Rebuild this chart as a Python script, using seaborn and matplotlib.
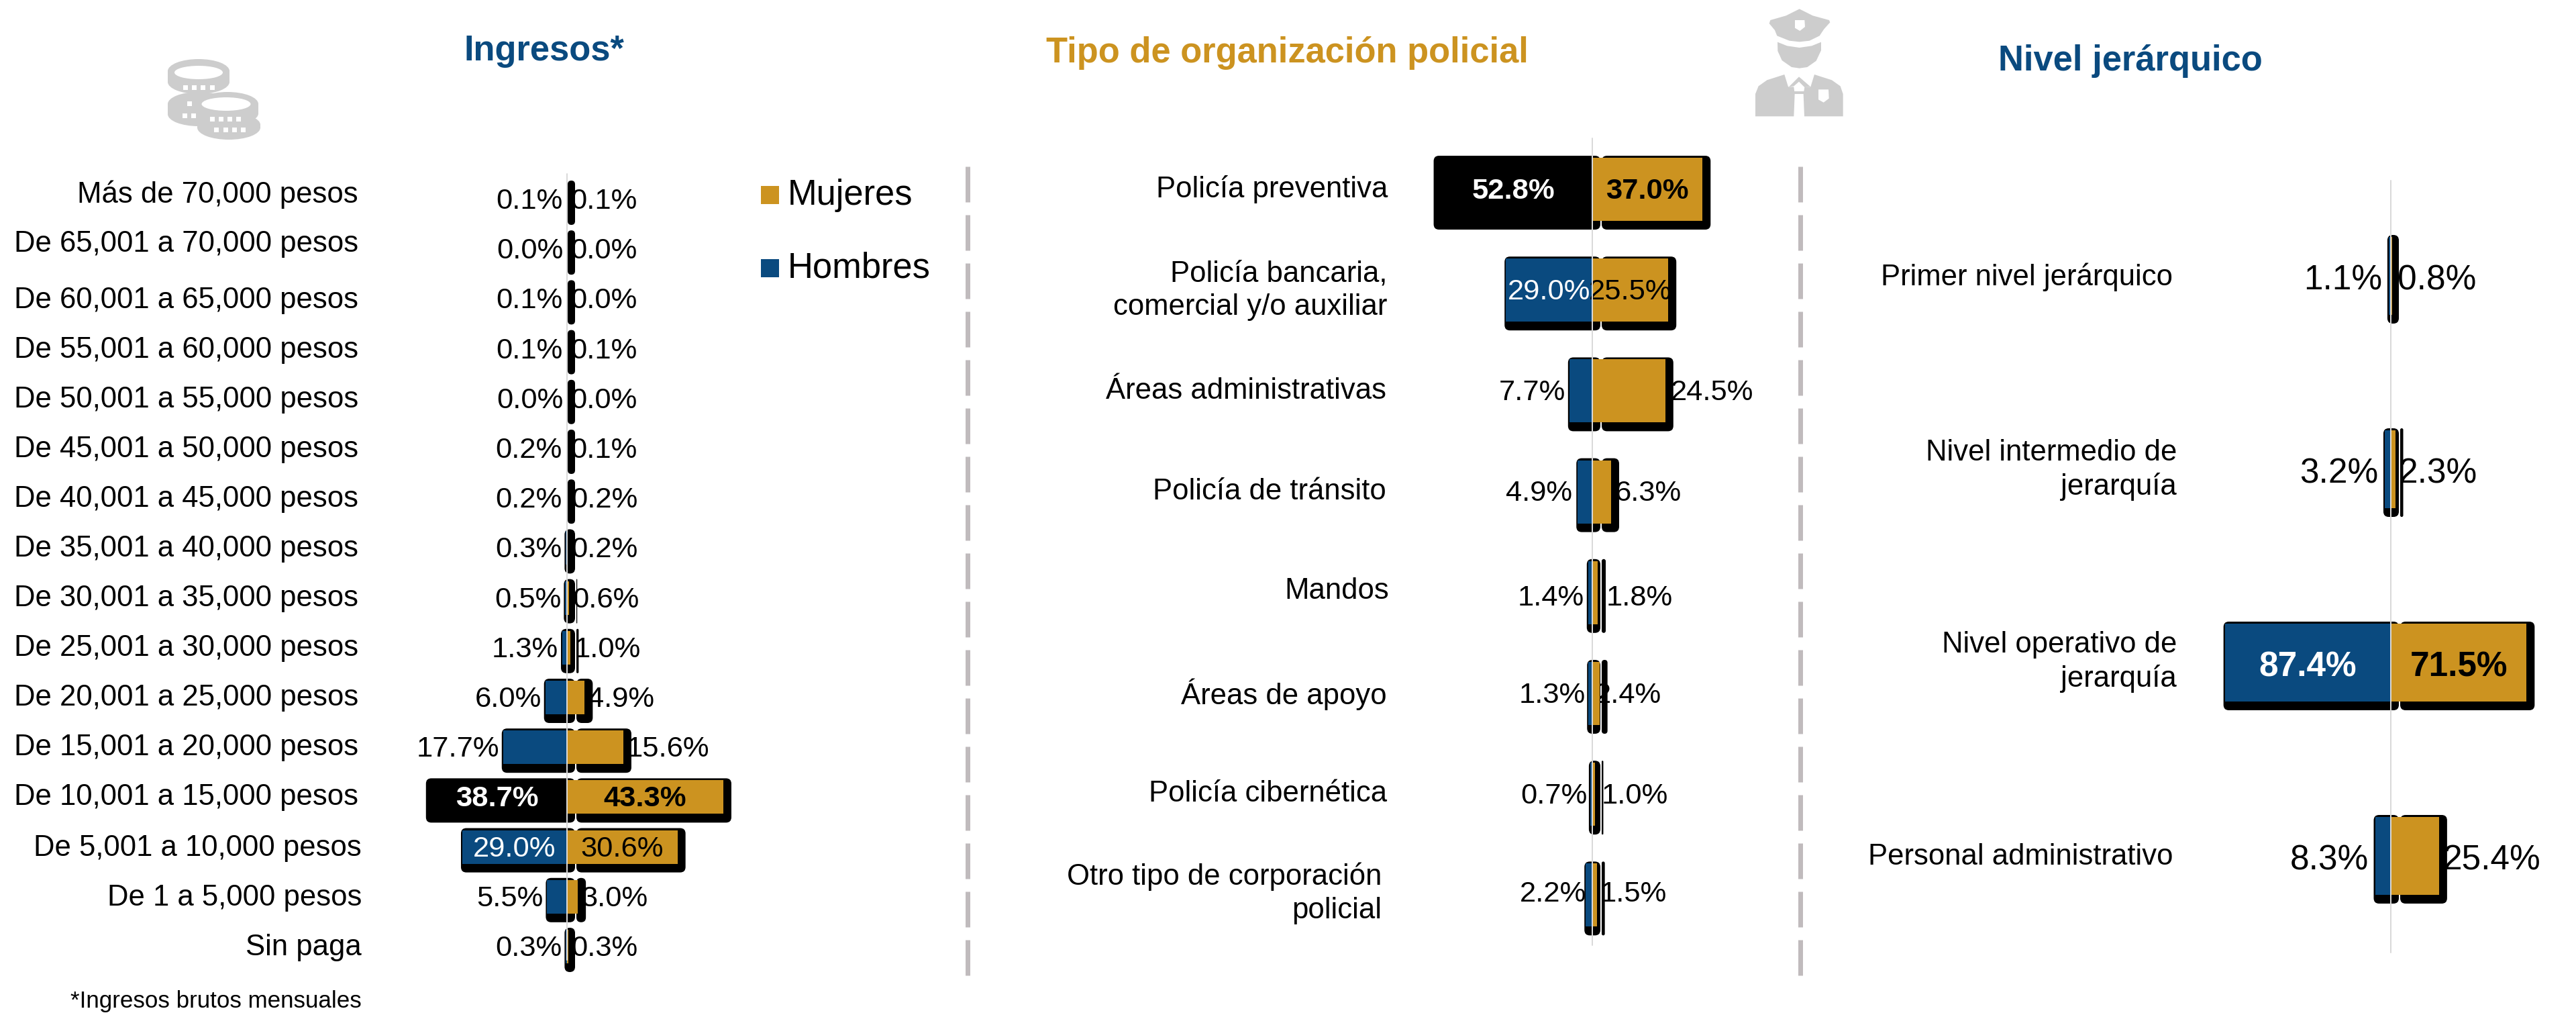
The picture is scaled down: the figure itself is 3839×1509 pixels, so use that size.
import matplotlib
matplotlib.use("Agg")
import matplotlib.pyplot as plt
from matplotlib.patches import FancyBboxPatch, Ellipse, Rectangle, Polygon
from matplotlib.transforms import IdentityTransform
import pandas as pd
import seaborn as sns

# Datos
ingresos = ["Más de 70,000 pesos", "De 65,001 a 70,000 pesos", "De 60,001 a 65,000 pesos",
            "De 55,001 a 60,000 pesos", "De 50,001 a 55,000 pesos", "De 45,001 a 50,000 pesos",
            "De 40,001 a 45,000 pesos", "De 35,001 a 40,000 pesos", "De 30,001 a 35,000 pesos",
            "De 25,001 a 30,000 pesos", "De 20,001 a 25,000 pesos", "De 15,001 a 20,000 pesos",
            "De 10,001 a 15,000 pesos", "De 5,001 a 10,000 pesos", "De 1 a 5,000 pesos", "Sin paga"]
ingresos_h = [0.1, 0.0, 0.1, 0.1, 0.0, 0.2, 0.2, 0.3, 0.5, 1.3, 6.0, 17.7, 38.7, 29.0, 5.5, 0.3]
ingresos_m = [0.1, 0.0, 0.0, 0.1, 0.0, 0.1, 0.2, 0.2, 0.6, 1.0, 4.9, 15.6, 43.3, 30.6, 3.0, 0.3]

organizacion = ["Policía preventiva", "Policía bancaria,\ncomercial y/o auxiliar", "Áreas administrativas",
                "Policía de tránsito", "Mandos", "Áreas de apoyo", "Policía cibernética",
                "Otro tipo de corporación\npolicial"]
organizacion_h = [52.8, 29.0, 7.7, 4.9, 1.4, 1.3, 0.7, 2.2]
organizacion_m = [37.0, 25.5, 24.5, 6.3, 1.8, 2.4, 1.0, 1.5]

nivel = ["Primer nivel jerárquico", "Nivel intermedio de\njerarquía", "Nivel operativo de\njerarquía",
         "Personal administrativo"]
nivel_h = [1.1, 3.2, 87.4, 8.3]
nivel_m = [0.8, 2.3, 71.5, 25.4]

# Colores
AZUL = "#0A4A7F"
ORO = "#CC9320"
GRIS = "#CDCDCD"

W, H = 3839, 1509
sns.set_theme(style="white")
plt.rcParams["font.family"] = ["Liberation Sans", "DejaVu Sans"]
plt.rcParams["lines.scale_dashes"] = False
plt.rcParams["text.color"] = "black"
PT = 72 / 100  # pixeles a puntos

fig = plt.figure(figsize=(W / 100, H / 100), dpi=100, facecolor="white")

# Capa de fondo en pixeles
bg = fig.add_axes([0, 0, 1, 1], zorder=0)
bg.set_xlim(0, W)
bg.set_ylim(H, 0)
bg.axis("off")


def panel(cats, hombres, mujeres, centro, escala, y0, paso, alto, linea, x_rango,
          fuente, negro=(), grandes=(), negrita=(), der_dx=None, izq_dx=None, dy=None, base_dy=-3):
    n = len(cats)
    arriba = y0 - paso / 2
    abajo = arriba + n * paso
    ax = fig.add_axes([x_rango[0] / W, 1 - abajo / H, (x_rango[1] - x_rango[0]) / W, n * paso / H],
                      zorder=2)
    ax.patch.set_alpha(0)
    df = pd.DataFrame({"cat": cats, "h": [-v for v in hombres], "m": mujeres})
    sns.barplot(data=df, y="cat", x="h", color=AZUL, saturation=1, width=alto / paso,
                linewidth=0, ax=ax, order=cats)
    sns.barplot(data=df, y="cat", x="m", color=ORO, saturation=1, width=alto / paso,
                linewidth=0, ax=ax, order=cats)
    ax.set_xlim((x_rango[0] - centro) / escala, (x_rango[1] - centro) / escala)
    ax.set_ylim(n - 0.5, -0.5)
    ax.axis("off")

    izq, der = ax.patches[:n], ax.patches[n:]
    # sombra negra redondeada de cada barra
    for i in range(n):
        x0 = ax.transData.transform((-hombres[i], i))[0]
        x1 = ax.transData.transform((mujeres[i], i))[0]
        xc = ax.transData.transform((0, i))[0]
        yb, yt = ax.transData.transform((0, i + alto / paso / 2))[1], ax.transData.transform((0, i - alto / paso / 2))[1]
        # en las barras casi nulas la sombra queda a la derecha del eje
        a0 = xc + 1 if hombres[i] < 0.25 else x0 - 2
        tramos = [(a0, xc + 12)]
        if x1 + 12 > xc + 15:
            tramos.append((xc + 14, x1 + 12))
        for a, b in tramos:
            ax.add_patch(FancyBboxPatch((a, yb - 13), b - a, yt - yb + 16,
                                        boxstyle=f"round,pad=0,rounding_size={min(8, (b - a) / 2)}",
                                        fc="black", ec="none",
                                        transform=IdentityTransform(), zorder=0.8, clip_on=False))
        if i in negro:
            izq[i].set_facecolor("black")
        for p in (izq[i], der[i]):
            p.set_zorder(1)

    # etiquetas de valores
    for i in range(n):
        peso = "bold" if i in negrita else "normal"
        sube = base_dy + (dy[i] if dy else 0)
        if i in grandes:
            ax.annotate(f"{hombres[i]:.1f}%", (-hombres[i] / 2, i), xytext=(0, sube * PT), textcoords="offset points",
                        ha="center", va="center", color="white", fontsize=fuente, fontweight=peso, zorder=3)
            ax.annotate(f"{mujeres[i]:.1f}%", (mujeres[i] / 2, i), xytext=(0, sube * PT), textcoords="offset points",
                        ha="center", va="center", color="black", fontsize=fuente, fontweight=peso, zorder=3)
        else:
            ax.annotate(f"{hombres[i]:.1f}%", (-hombres[i], i), xytext=((-6 + (izq_dx[i] if izq_dx else 0)) * PT, sube * PT),
                        textcoords="offset points", ha="right", va="center", fontsize=fuente, color="black", zorder=0.5)
            ax.annotate(f"{mujeres[i]:.1f}%", (mujeres[i], i), xytext=((5 + (der_dx[i] if der_dx else 0)) * PT, sube * PT),
                        textcoords="offset points", ha="left", va="center", fontsize=fuente, color="black", zorder=0.5)

    # eje central
    eje = plt.Line2D([centro, centro], linea, color="#D9D9D9", lw=2 * PT, transform=bg.transData)
    fig.add_artist(eje)
    eje.set_zorder(5)
    return ax


panel(ingresos, ingresos_h, ingresos_m, 845, 5.38, 297, 74.2, 50, (259, 1430), (600, 1300), 31.3,
      negro=(12,), grandes=(12, 13), negrita=(12,))
panel(organizacion, organizacion_h, organizacion_m, 2373, 4.44, 282, 150.2, 94, (206, 1408), (2100, 2680), 31.3,
      negro=(0,), grandes=(0, 1), negrita=(0,), der_dx=[0, 0, 3, 1, 8, -12, 4, 0],
      izq_dx=[0, 0, 0, -2, 0, 2, 2, 7], dy=[0, 0, 0, 1, -5, 0, 0, 4])
panel(nivel, nivel_h, nivel_m, 3563, 2.83, 411, 288, 116, (269, 1419), (3290, 3839), 37,
      grandes=(2,), negrita=(2,), der_dx=[3, 0, 0, 0], izq_dx=[-4, -4, 0, -4], base_dy=-7)

# Textos de categorias
y_ingresos = [290, 363, 447, 521, 596, 670, 744, 817, 891, 965, 1040, 1114, 1188, 1264, 1337, 1412]
for i, t in enumerate(ingresos):
    bg.text(534 if i < 13 else 539, y_ingresos[i], t, ha="right", va="center", fontsize=31.4)
bg.text(539, 1491, "*Ingresos brutos mensuales", ha="right", va="center", fontsize=25.2)

y_org = [282, 433, 582, 732, 881, 1034, 1183, 1331]
x_org = [2068, 2067, 2066, 2066, 2070, 2067, 2067, 2059]
for i, t in enumerate(organizacion):
    bg.text(x_org[i], y_org[i], t, ha="right", va="center", fontsize=31.4, linespacing=1.27, multialignment="right")

y_niv = [413, 700, 986, 1276]
x_niv = [3238, 3244, 3244, 3239]
for i, t in enumerate(nivel):
    bg.text(x_niv[i], y_niv[i], t, ha="right", va="center", fontsize=31.4, linespacing=1.27, multialignment="right")

# Titulos
bg.text(811, 76, "Ingresos*", ha="center", va="center", fontsize=37.8, fontweight="bold", color=AZUL)
bg.text(1918, 79, "Tipo de organización policial", ha="center", va="center", fontsize=37.8, fontweight="bold", color=ORO)
bg.text(3175, 91, "Nivel jerárquico", ha="center", va="center", fontsize=37.8, fontweight="bold", color=AZUL)

# Leyenda
bg.add_patch(Rectangle((1134, 277), 27, 27, fc=ORO, ec="none"))
bg.add_patch(Rectangle((1134, 386), 27, 27, fc=AZUL, ec="none"))
bg.text(1174, 291, "Mujeres", ha="left", va="center", fontsize=37.8)
bg.text(1174, 400, "Hombres", ha="left", va="center", fontsize=37.8)

# Separadores
for x in (1441.5, 2683):
    bg.plot([x, x], [248, 1462], color="#C0BBBD", lw=7 * PT, dashes=(53 * PT, 19 * PT), dash_capstyle="butt")


# Iconos
def moneda(cx, cy, rx, ry, grueso):
    bg.add_patch(Ellipse((cx, cy), 2 * rx, 2 * ry, fc=GRIS, ec="none"))
    bg.add_patch(Ellipse((cx, cy + grueso), 2 * rx, 2 * ry, fc=GRIS, ec="none"))
    bg.add_patch(Rectangle((cx - rx, cy), 2 * rx, grueso, fc=GRIS, ec="none"))


moneda(296, 155, 46, 18, 15)
moneda(296, 106, 46, 18, 16)
for x, y in [(276, 130), (289, 130), (302, 130), (316, 130), (282, 154), (275, 172), (288, 172)]:
    bg.add_patch(Rectangle((x - 3.5, y - 3.5), 7, 7, fc="white", ec="none"))
moneda(341, 186, 47, 18, 4)
moneda(339, 155, 46, 18, 14)
bg.add_patch(Ellipse((296, 108), 72, 20, fc="white", ec="none"))
bg.add_patch(Ellipse((337, 155), 73, 20, fc="white", ec="none"))
for x, y in [(316, 177), (329, 177), (342, 177), (355, 177), (322, 193), (336, 193), (349, 193), (362, 193)]:
    bg.add_patch(Rectangle((x - 3.5, y - 3.5), 7, 7, fc="white", ec="none"))


def icono(pts, color=GRIS):
    bg.add_patch(Polygon([(x / 3 + 2590, y / 3) for x, y in pts], closed=True, fc=color, ec="none"))


icono([(275, 40), (215, 70), (145, 90), (140, 105), (165, 135), (175, 160), (230, 182), (275, 187),
       (320, 182), (365, 160), (385, 130), (412, 100), (408, 90), (335, 70)])
icono([(255, 90), (298, 90), (300, 120), (277, 138), (255, 125)], "white")
icono([(177, 188), (220, 205), (275, 213), (330, 205), (372, 188), (372, 225), (350, 272), (310, 300),
       (275, 305), (240, 300), (197, 270), (178, 228)])
icono([(78, 520), (78, 420), (92, 385), (130, 358), (208, 333), (225, 388), (250, 388), (254, 420), (250, 520)])
icono([(470, 520), (470, 420), (458, 385), (420, 358), (342, 333), (325, 388), (298, 390), (293, 420), (297, 520)])
icono([(228, 388), (273, 343), (325, 388), (298, 390), (273, 365), (250, 385)])
icono([(252, 408), (296, 408), (296, 420), (252, 420)])
icono([(360, 400), (405, 400), (407, 440), (383, 458), (360, 445)], "white")

fig.savefig("out.png", dpi=100, facecolor="white")
